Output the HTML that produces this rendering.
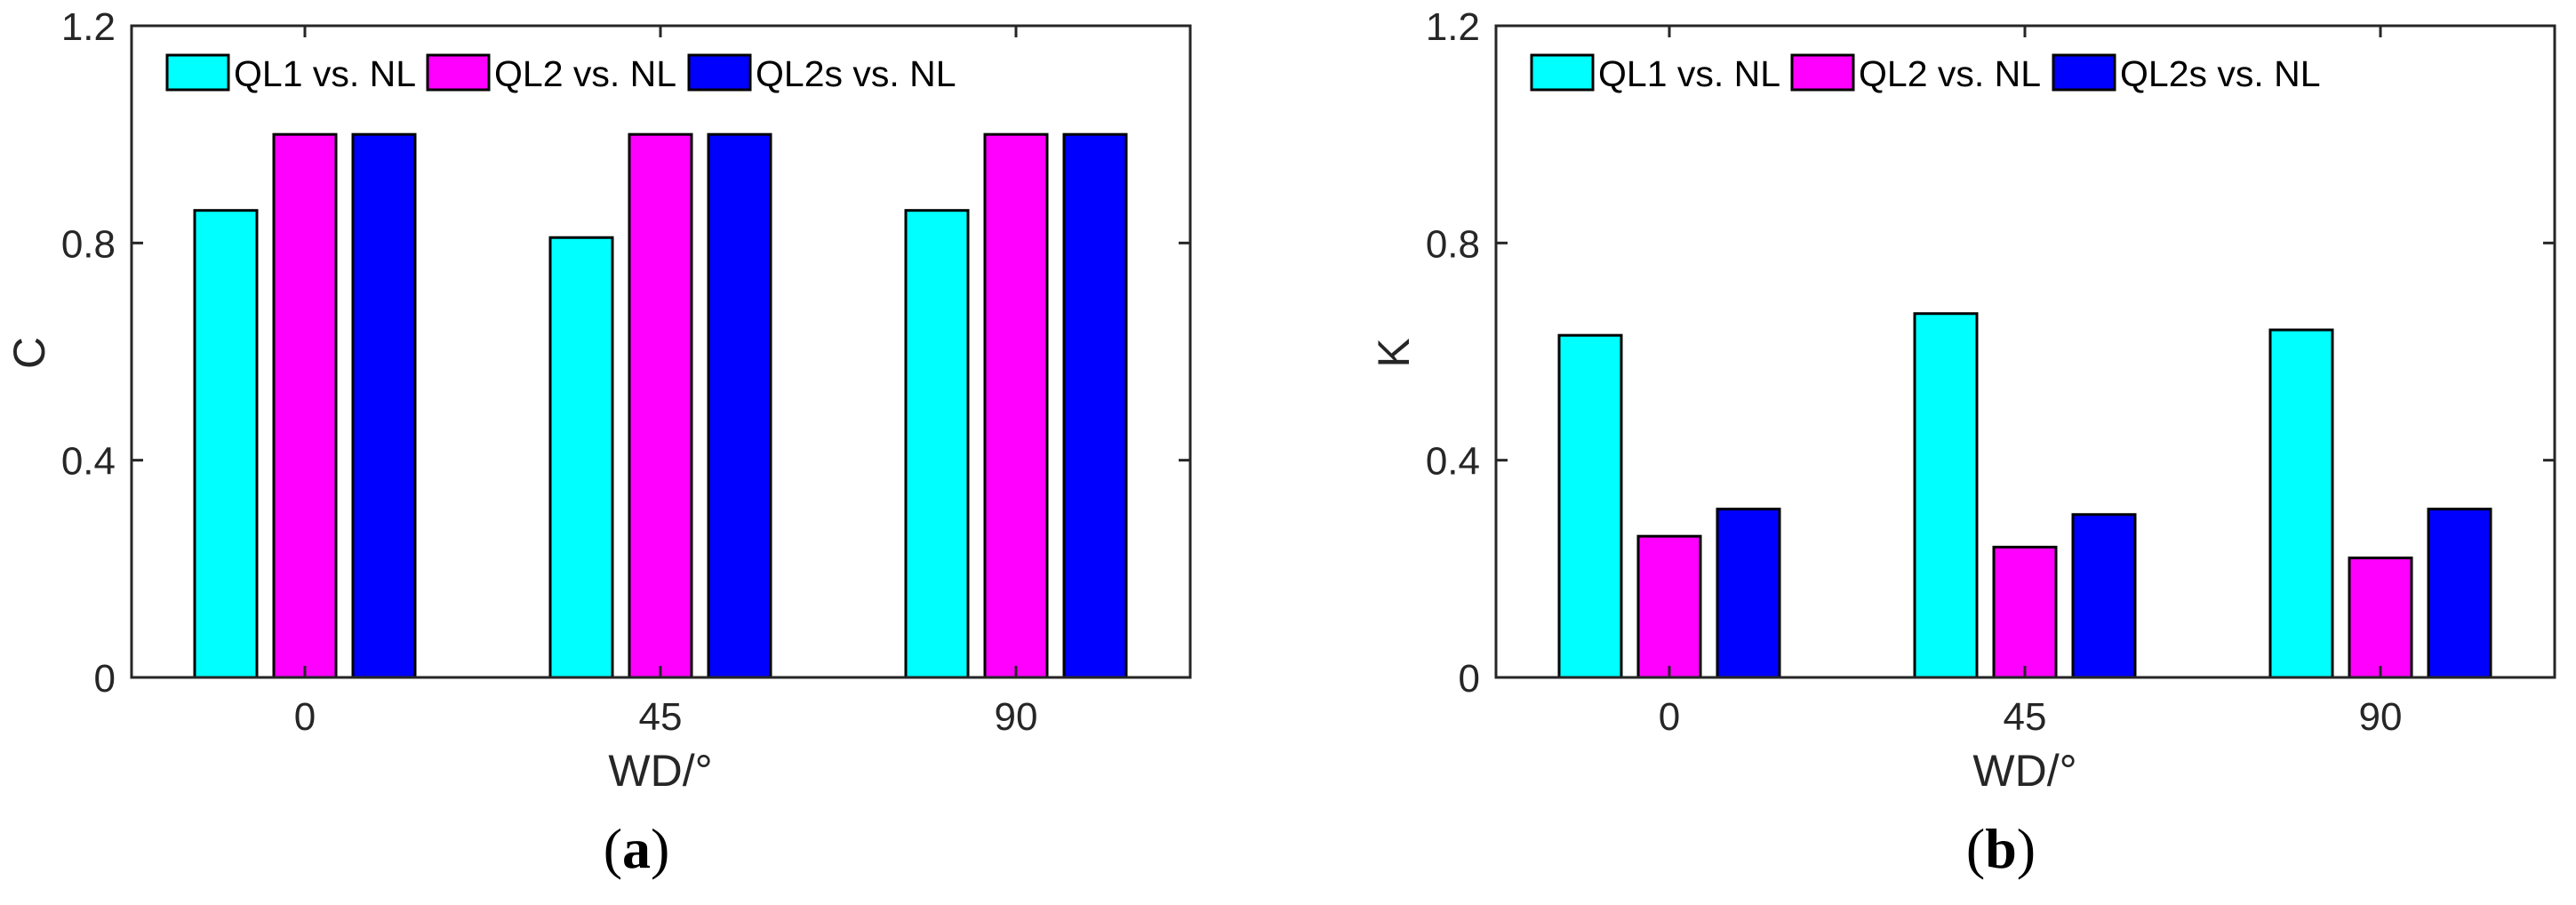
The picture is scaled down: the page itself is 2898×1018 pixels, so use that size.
<!DOCTYPE html>
<html><head><meta charset="utf-8"><style>
html,body{margin:0;padding:0;background:#fff;}
svg{display:block;}
text{font-family:"Liberation Sans",Arial,sans-serif;fill:#262626;}
</style></head><body>
<svg id="fig" width="2898" height="1018" viewBox="0 0 2898 1018" xmlns="http://www.w3.org/2000/svg"></svg>
<script>
const categories = ["0", "45", "90"];
const seriesNames = ["QL1 vs. NL", "QL2 vs. NL", "QL2s vs. NL"];
const seriesColors = ["#00ffff", "#ff00ff", "#0000ff"];
const valuesC_QL1 = [0.86, 0.81, 0.86];
const valuesC_QL2 = [1.0, 1.0, 1.0];
const valuesC_QL2s = [1.0, 1.0, 1.0];
const valuesK_QL1 = [0.63, 0.67, 0.64];
const valuesK_QL2 = [0.26, 0.24, 0.22];
const valuesK_QL2s = [0.31, 0.30, 0.31];
const yTicks = [0, 0.4, 0.8, 1.2];
const yTickLabels = ["0", "0.4", "0.8", "1.2"];

const NS = "http://www.w3.org/2000/svg";
const svg = document.getElementById("fig");
function mk(tag, attrs, parent, txt) {
  const e = document.createElementNS(NS, tag);
  for (const k in attrs) e.setAttribute(k, attrs[k]);
  if (txt !== undefined) e.textContent = txt;
  parent.appendChild(e);
  return e;
}

function drawPanel(left, yLabel, panelLabel, series, key) {
  const right = left + 1191, top = 29, bottom = 762;
  const yMax = 1.2;
  const yS = v => bottom - v / yMax * (bottom - top);
  const xS = i => left + 195 + 400 * i;
  const g = mk("g", {}, svg);
  
  

  // bars
  series.forEach((vals, j) => {
    vals.forEach((v, i) => {
      const cx = xS(i) + (j - 1) * 89;
      const r = mk("rect", {x: cx - 35, y: yS(v), width: 70, height: yS(0) - yS(v),
        fill: seriesColors[j], stroke: "#000", "stroke-width": 3}, g);
      
      
    });
  });

  // axes box
  const box = mk("rect", {x: left, y: top, width: right - left, height: bottom - top,
    fill: "none", stroke: "#262626", "stroke-width": 3}, g);
  
  

  // y ticks
  yTicks.forEach((t, k) => {
    const y = yS(t);
    mk("line", {x1: left, y1: y, x2: left + 13, y2: y, stroke: "#262626", "stroke-width": 3}, g);
    mk("line", {x1: right, y1: y, x2: right - 13, y2: y, stroke: "#262626", "stroke-width": 3}, g);
    const tl = mk("text", {x: left - 18, y: y + 16, "font-size": 44, "text-anchor": "end"}, g, yTickLabels[k]);
    
    
  });
  // x ticks
  categories.forEach((c, i) => {
    const x = xS(i);
    mk("line", {x1: x, y1: bottom, x2: x, y2: bottom - 13, stroke: "#262626", "stroke-width": 3}, g);
    mk("line", {x1: x, y1: top, x2: x, y2: top + 13, stroke: "#262626", "stroke-width": 3}, g);
    const tl = mk("text", {x: x, y: 821, "font-size": 44, "text-anchor": "middle"}, g, c);
    
    
  });

  // axis titles
  const xt = mk("text", {x: left + 595, y: 884, "font-size": 50, "text-anchor": "middle"}, g, "WD/°");
  
  
  const yt = mk("text", {x: 0, y: 0, "font-size": 50, "text-anchor": "middle",
    transform: "translate(" + (left - 98) + ",397) rotate(-90)"}, g, yLabel);
  
  

  // panel label
  const pl = mk("text", {x: left + 568, y: 976, "font-size": 64, "text-anchor": "middle",
    style: "font-family:'Liberation Serif','Times New Roman',serif;fill:#000"}, g);
  
  
  mk("tspan", {}, pl, "(");
  mk("tspan", {"font-weight": "bold"}, pl, panelLabel);
  mk("tspan", {}, pl, ")");

  // legend
  const boxXs = [40, 333, 627];
  seriesNames.forEach((n, j) => {
    const lg = mk("g", {}, g);
    
    
    const bx = left + boxXs[j];
    mk("rect", {x: bx, y: 62, width: 69, height: 39, fill: seriesColors[j], stroke: "#000", "stroke-width": 3}, lg);
    mk("text", {x: bx + 75, y: 97, "font-size": 41, style: "fill:#000"}, lg, n);
  });
}

drawPanel(148, "C", "a", [valuesC_QL1, valuesC_QL2, valuesC_QL2s], "c");
drawPanel(1683, "K", "b", [valuesK_QL1, valuesK_QL2, valuesK_QL2s], "k");
</script>
</body></html>
